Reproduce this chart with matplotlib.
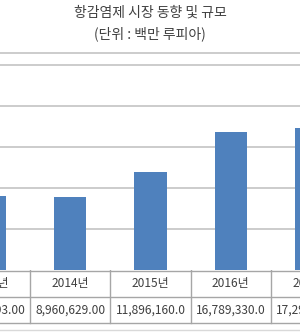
import matplotlib
matplotlib.use("Agg")
import matplotlib.pyplot as plt

plt.rcParams['font.family'] = ['Noto Sans CJK KR', 'DejaVu Sans']

years = ['2013년', '2014년', '2015년', '2016년', '2017년']
values = [9024693.00, 8960629.00, 11896160.0, 16789330.0, 17296540.0]
value_labels = ['9,024,693.00', '8,960,629.00', '11,896,160.0', '16,789,330.0', '17,296,540.0']
grid_ticks = [5e6, 10e6, 15e6, 20e6, 25e6]

W, H = 300, 334
fig = plt.figure(figsize=(W / 100, H / 100), dpi=100)
fig.patch.set_facecolor('white')

# bar area: value 0 at pixel 270, top edge at pixel 52
ax = fig.add_axes([0, (H - 270) / H, 1, (270 - 52) / H])
px_per_unit = 41 / 5e6
ax.set_ylim(0, (270 - 52) / px_per_unit)
step = 80.25
ax.set_xlim(10 / step, 310 / step)
for t in grid_ticks:
    ax.axhline(t, color='#bfbfbf', lw=1.1, zorder=1)
ax.axhline(ax.get_ylim()[1] - 0.6 / px_per_unit, color='#bfbfbf', lw=1.1, zorder=1)
ax.bar(range(len(values)), values, width=0.4, color='#4f81bd', zorder=2)
ax.set_axis_off()

# data table underneath
tab = fig.add_axes([0, 0, 1, (H - 270) / H])
tab.set_xlim(ax.get_xlim())
tab.set_ylim(H, 270)
tab.set_axis_off()
for yy, c in [(270.5, '#a6a6a6'), (297, '#a6a6a6'), (323, '#a6a6a6'), (330, '#d9d9d9')]:
    tab.axhline(yy, color=c, lw=1)
for i in range(len(years) - 1):
    tab.plot([i + 0.5, i + 0.5], [270, 323], color='#a6a6a6', lw=1)
for i, (yr, lab) in enumerate(zip(years, value_labels)):
    tab.text(i, 284, yr, ha='center', va='center', fontsize=8.6, color='#404040', clip_on=True)
    tab.text(i, 310, lab, ha='center', va='center', fontsize=8.6, color='#404040', clip_on=True)

fig.text(0.5, 1 - 13 / H, '항감염제 시장 동향 및 규모', ha='center', va='center',
         fontsize=10, color='#404040')
fig.text(0.5, 1 - 34 / H, '(단위 : 백만 루피아)', ha='center', va='center',
         fontsize=10, color='#404040')

fig.savefig('out.png', dpi=100)
